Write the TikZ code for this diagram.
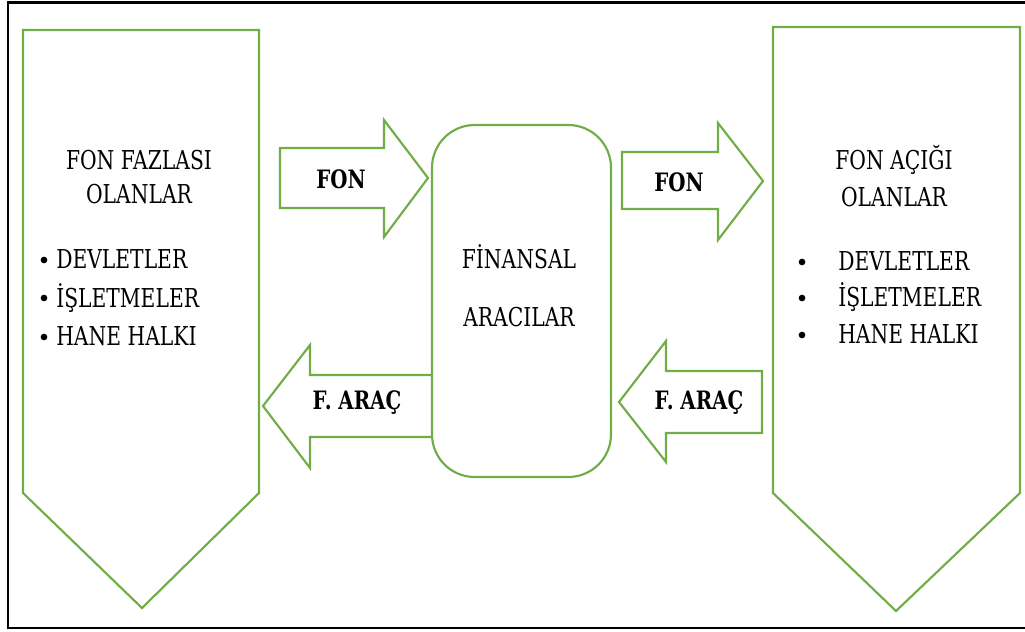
\documentclass[tikz,border=0pt]{standalone}
\usepackage{fontspec}
\setmainfont{DejaVu Serif}[FakeStretch=0.78]
\begin{document}
\begin{tikzpicture}[x=0.75pt,y=-0.75pt,
  gline/.style={draw=grn,line width=1.6pt,line join=miter},
  txt/.style={font=\fontsize{19.5pt}{23pt}\selectfont,inner sep=0pt},
  btxt/.style={font=\fontsize{19pt}{23pt}\selectfont\bfseries,inner sep=0pt},
  dot/.style={circle,fill=black,inner sep=0pt,minimum size=5pt}]
\definecolor{grn}{RGB}{112,173,71}
\useasboundingbox (0,0) rectangle (1025,632);
% outer frame (right side cut off)
\draw[line width=2.2pt,black] (1026,2.5) -- (8,2.5) -- (8,628) -- (1026,628);
% left pentagon
\draw[gline] (23,30) -- (259,30) -- (259,493) -- (142,608) -- (23,493) -- cycle;
% right pentagon
\draw[gline] (773,27) -- (1020,27) -- (1020,493) -- (896,611) -- (773,493) -- cycle;
% central rounded box
\draw[gline,rounded corners=32pt] (432,125) rectangle (611,477);
% FON arrow left
\draw[gline] (280,148) -- (384,148) -- (384,120) -- (428,178) -- (384,237) -- (384,208) -- (280,208) -- cycle;
% FON arrow right
\draw[gline] (622,152) -- (718,152) -- (718,123) -- (763,181) -- (718,240) -- (718,209) -- (622,209) -- cycle;
% F. ARAC left
\draw[gline] (431,375) -- (310,375) -- (310,345) -- (263,406) -- (310,468) -- (310,437) -- (431,437);
% F. ARAC right
\draw[gline] (762,371) -- (666,371) -- (666,341) -- (619,402) -- (666,462) -- (666,433) -- (762,433) -- cycle;
% texts left box
\node[txt] (l1) at (139,160) {FON FAZLASI};
\node[txt] (l2) at (139,194) {OLANLAR};
\node[dot] (lb1) at (44,260) {};
\node[dot] (lb2) at (44,298) {};
\node[dot] (lb3) at (44,337) {};
\node[txt,anchor=base west] (lt1) at (56,268) {DEVLETLER};
\node[txt,anchor=base west] (lt2) at (56,307) {İŞLETMELER};
\node[txt,anchor=base west] (lt3) at (56,345) {HANE HALKI};
% center
\node[txt] (c1) at (519,257) {FİNANSAL};
\node[txt] (c2) at (519,317) {ARACILAR};
% arrow labels
\node[btxt] (a1) at (341,179) {FON};
\node[btxt] (a2) at (679,182) {FON};
\node[btxt] (a3) at (357,403) {F. ARAÇ};
\node[btxt] (a4) at (699,403) {F. ARAÇ};
% right box texts
\node[txt] (r1) at (894,160) {FON AÇIĞI};
\node[txt] (r2) at (894,197) {OLANLAR};
\node[dot] (rb1) at (802,262) {};
\node[dot] (rb2) at (802,298) {};
\node[dot] (rb3) at (802,335) {};
\node[txt,anchor=base west] (rt1) at (838,270) {DEVLETLER};
\node[txt,anchor=base west] (rt2) at (838,306) {İŞLETMELER};
\node[txt,anchor=base west] (rt3) at (838,343) {HANE HALKI};
\end{tikzpicture}
\end{document}
